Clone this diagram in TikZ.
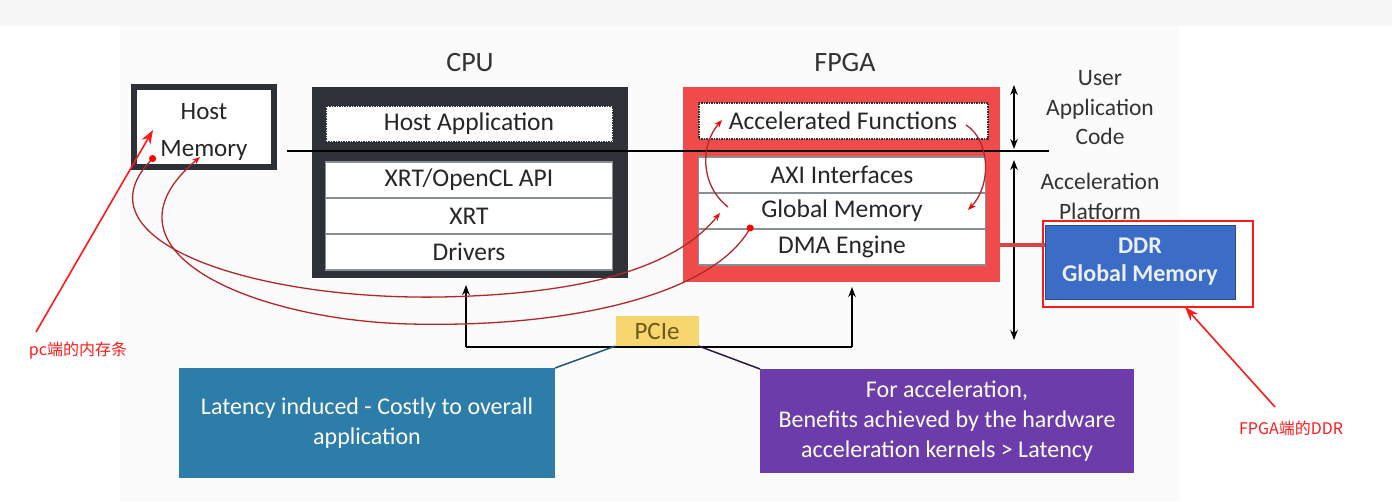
\documentclass[tikz,border=0pt]{standalone}
\usepackage{fontspec}
\setmainfont{Carlito}
\newfontfamily\cjk{Noto Sans CJK SC}
\usetikzlibrary{arrows.meta, positioning}
\definecolor{cpugray}{HTML}{2E3238}
\definecolor{fpgared}{HTML}{EF4B4B}
\definecolor{ddrblue}{HTML}{3B6CC6}
\definecolor{pcieyellow}{HTML}{F7D66F}
\definecolor{pcietext}{HTML}{6B5A1A}
\definecolor{latblue}{HTML}{2D7DAA}
\definecolor{accpurple}{HTML}{6C3DAA}
\definecolor{linkred}{HTML}{B3262A}
\definecolor{notered}{HTML}{FF1A1A}
\definecolor{rowgray}{HTML}{8A8F96}

\begin{document}
\begin{tikzpicture}[x=1pt, y=-1pt]

  \tikzstyle{layer} = [%
  draw=rowgray,
  fill=white,
  font=\fontsize{25.5}{28}\selectfont,
  inner sep=0pt,
  line width=1.5pt,
  minimum height=36pt,
  minimum width=287pt,
  outer sep=0pt,
  rectangle,
  text=black!85,
  ];

  \tikzstyle{app} = [%
  layer,
  densely dotted,
  draw=cpugray,
  line width=2pt,
  ];

  \tikzstyle{chip} = [%
  inner sep=0pt,
  outer sep=0pt,
  rectangle,
  ];

  \tikzstyle{title} = [%
  font=\fontsize{28}{32}\selectfont,
  text=black!80,
  ];

  \tikzstyle{side} = [%
  align=center,
  font=\fontsize{23.5}{29.5}\selectfont,
  text=black!80,
  ];

  \tikzstyle{callout} = [%
  align=center,
  chip,
  font=\fontsize{24}{30}\selectfont,
  text=white,
  ];

  \tikzstyle{link} = [%
  draw=linkred,
  line width=1.3pt,
  ];

  \tikzstyle{note} = [%
  -{Stealth[length=14pt, width=10pt]},
  draw=notered,
  line width=1.6pt,
  ];

  \useasboundingbox (0,0) rectangle (1392,501);
  \fill[black!3] (0,0) rectangle (1392,26);
  \fill[black!1.5] (120,26) rectangle (1180,501);

  % host side
  \node[chip, draw=cpugray, fill=white, line width=6pt, minimum height=80pt, minimum width=140pt]
    (hostmem) at (204,127) {};
  \node[align=center, font=\fontsize{25}{37}\selectfont, text=black!85] (hostlabel) at (204,132) {Host\\Memory};

  \node[title] (cputitle) at (470,63) {CPU};
  \node[chip, fill=cpugray, minimum height=191pt, minimum width=316pt] (cpu) at (470,182.5) {};
  \node[app] (hostapp) at (469,123.5) {Host Application};
  \node[layer] (api) at (469,180) {XRT/OpenCL API};
  \node[layer, below=0pt of api] (xrt) {XRT};
  \node[layer, below=0pt of xrt] (drv) {Drivers};

  % device side
  \node[title] (fpgatitle) at (845,63) {FPGA};
  \node[chip, fill=fpgared, minimum height=195pt, minimum width=317pt] (fpga) at (841.5,184.5) {};
  \node[app, minimum width=289pt] (accel) at (843,120.5) {Accelerated Functions};
  \node[layer] (axi) at (842,175) {AXI Interfaces};
  \node[layer, below=0pt of axi] (gmem) {Global Memory};
  \node[layer, below=0pt of gmem] (dma) {DMA Engine};

  \draw[line width=1.5pt] (287,151) -- (1049,151);

  % layers on the right
  \draw[{Stealth[length=10pt]}-{Stealth[length=10pt]}, line width=1.5pt] (1014,85) -- (1014,149);
  \draw[{Stealth[length=10pt]}-{Stealth[length=10pt]}, line width=1.5pt] (1014,160) -- (1014,340);
  \node[side] (usercode) at (1100,108) {User\\Application\\Code};
  \node[side] (platform) at (1100,196.5) {Acceleration\\Platform};

  \node[chip, align=center, draw=ddrblue!70!black, fill=ddrblue, font=\bfseries\fontsize{24}{28}\selectfont,
    line width=1pt, minimum height=74pt, minimum width=190pt, text=white!90!ddrblue]
    (ddr) at (1140,262) {DDR\\Global Memory};
  \node[chip, draw=notered, line width=1.5pt, minimum height=86pt, minimum width=210pt] (ddrmark) at (1148,264) {};
  \coordinate (ddrlink) at ([yshift=17pt]ddr.west);
  \draw[draw=fpgared!90!black, line width=3.5pt] (fpga.east |- ddrlink) -- (ddrlink);

  % pcie bus
  \coordinate (busleft) at (466,347);
  \coordinate (busright) at (852,347);
  \draw[line width=2pt] (busleft) -- (busright);
  \draw[-{Stealth[length=10pt]}, line width=2pt] (busleft) -- ([yshift=-7pt]cpu.south -| busleft);
  \draw[-{Stealth[length=10pt]}, line width=2pt] (busright) -- ([yshift=-5pt]fpga.south -| busright);
  \node[chip, fill=pcieyellow, font=\fontsize{25}{28}\selectfont, minimum height=30pt, minimum width=83pt,
    text=pcietext] (pcie) at (657,331) {PCIe};

  \node[callout, fill=latblue, minimum height=110pt, minimum width=376pt] (latency) at (367,423)
    {Latency induced - Costly to overall\\application};
  \node[callout, fill=accpurple, minimum height=104pt, minimum width=374pt] (benefit) at (947,421)
    {For acceleration,\\Benefits achieved by the hardware\\acceleration kernels > Latency};
  \draw[draw=latblue!70!black, line width=1.5pt] (latency.north east) -- (pcie.south west);
  \draw[draw=accpurple!40!black, line width=1.5pt] (pcie.south east) -- (benefit.north west);

  % data movement
  \coordinate (hostout) at (155,156);
  \coordinate (hostin) at (200,157);
  \coordinate (gmemin) at (720,213);
  \coordinate (gmemout) at (752,225);
  \coordinate (gmemup) at (728,207);
  \coordinate (accin) at (722,120);
  \coordinate (accout) at (966,125);
  \coordinate (gmemdown) at (968,210);
  \draw[link, {Circle[length=7pt, color=red]}-{Stealth[length=8pt, color=red]}]
    (hostout) .. controls (75,240) and (250,300) .. (440,297)
    .. controls (600,294) and (680,262) .. (gmemin);
  \draw[link, {Circle[length=7pt, color=red]}-{Stealth[length=8pt, color=red]}]
    (gmemout) .. controls (710,295) and (570,328) .. (410,324)
    .. controls (250,320) and (90,250) .. (hostin);
  \draw[link, -{Stealth[length=8pt, color=red]}] (gmemup) .. controls (700,185) and (700,145) .. (accin);
  \draw[link, -{Stealth[length=8pt, color=red]}] (accout) .. controls (990,140) and (992,185) .. (gmemdown);

  % notes
  \node[font=\cjk\fontsize{16}{18}\selectfont, text=notered] (pcmemo) at (78,351) {pc端的内存条};
  \node[font=\cjk\fontsize{16}{18}\selectfont, text=notered] (ddrmemo) at (1291,428) {FPGA端的DDR};
  \coordinate (pcfrom) at (36,332);
  \coordinate (pcto) at (153,130);
  \coordinate (ddrfrom) at (1275,407);
  \coordinate (ddrto) at (1185,307);
  \draw[note] (pcfrom) -- (pcto);
  \draw[note] (ddrfrom) -- (ddrto);

\end{tikzpicture}
\end{document}
